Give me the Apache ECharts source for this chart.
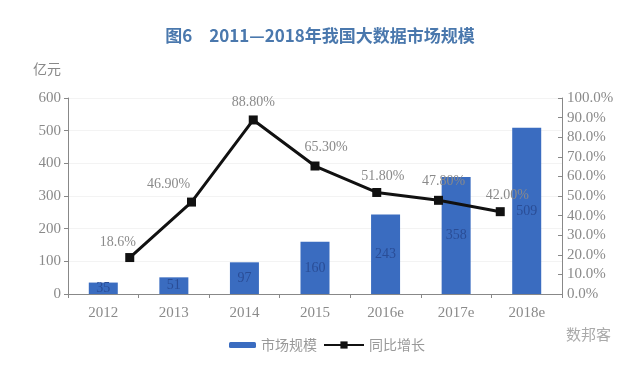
<!DOCTYPE html>
<html><head><meta charset="utf-8">
<script src="https://cdn.jsdelivr.net/npm/echarts@6/dist/echarts.min.js"></script>
<style>html,body{margin:0;padding:0;background:#fff}#c{width:640px;height:365px}</style>
</head><body><div id="c"></div>
<script>
const categories = ['2012','2013','2014','2015','2016e','2017e','2018e'];
const marketSize = [35, 51, 97, 160, 243, 358, 509];
const growth = [18.6, 46.9, 88.8, 65.3, 51.8, 47.8, 42.0];
const growthLabels = ['18.6%','46.90%','88.80%','65.30%','51.80%','47.80%','42.00%'];
const labelOffsets = [[-12,2],[-23,0],[0,0],[11,-1],[6,1],[5,-1],[7,1]];

const chart = echarts.init(document.getElementById('c'));
const serif = 'Liberation Serif';
const cjk = 'Noto Sans CJK SC';
const grey = '#8a8a8a';

const lineCats = [''].concat(categories).concat(['']);
const lineData = [null].concat(growth.map((v,i)=>({
  value: v,
  label: {formatter: growthLabels[i], offset: labelOffsets[i]}
}))).concat([null]);

chart.setOption({
  animation: false,
  title: {
    text: '图6　2011—2018年我国大数据市场规模',
    left: 'center', top: 22,
    textStyle: {fontFamily: cjk, fontSize: 17, fontWeight: 'bold', color: '#4a78ad'}
  },
  graphic: [
    {type:'text', left: 33, top: 62, style:{text:'亿元', font:'14px "Noto Sans CJK SC"', fill:'#888'}},
    {type:'text', left: 566, top: 327, style:{text:'数邦客', font:'15px "Noto Sans CJK SC"', fill:'#aaa'}}
  ],
  legend: [
    {data:['市场规模'], left: 224, top: 333, itemWidth: 27, itemHeight: 6, itemGap: 4,
     textStyle:{fontFamily: cjk, fontSize: 14, color: '#999'}},
    {data:['同比增长'], left: 318, top: 333, itemWidth: 40, itemHeight: 9,
     textStyle:{fontFamily: cjk, fontSize: 14, color: '#999'}}
  ],
  grid: {left: 68, right: 78, top: 98, bottom: 71},
  xAxis: [
    {type:'category', data: categories, boundaryGap: true,
     axisLine:{lineStyle:{color:'#888'}},
     axisTick:{show:true, length:4, lineStyle:{color:'#888'}},
     axisLabel:{fontFamily: serif, fontSize: 15, color: grey, margin: 12}},
    {type:'category', data: lineCats, boundaryGap: false, show: false, position:'bottom'}
  ],
  yAxis: [
    {type:'value', min: 0, max: 600, interval: 100,
     axisLine:{show:true, lineStyle:{color:'#888'}},
     axisTick:{show:true, length:4, lineStyle:{color:'#888'}},
     axisLabel:{fontFamily: serif, fontSize: 15, color: grey, margin: 7},
     splitLine:{show:true, lineStyle:{color:'#f3f3f3'}}},
    {type:'value', min: 0, max: 100, interval: 10,
     axisLine:{show:true, lineStyle:{color:'#888'}},
     axisTick:{show:true, length:4, inside:true, lineStyle:{color:'#888'}},
     axisLabel:{fontFamily: serif, fontSize: 15, color: grey, margin: 5,
       formatter: v => v.toFixed(1) + '%'},
     splitLine:{show:false}}
  ],
  series: [
    {name:'市场规模', type:'bar', data: marketSize, barWidth: 29,
     itemStyle:{color:'#3a6cc0'},
     label:{show:true, position:'inside', fontFamily: serif, fontSize: 14, color:'#2a4d96'}},
    {name:'同比增长', type:'line', xAxisIndex: 1, yAxisIndex: 1, data: lineData,
     symbol:'rect', symbolSize: 9, connectNulls: false,
     lineStyle:{color:'#111', width: 3}, itemStyle:{color:'#111'},
     label:{show:true, position:'top', distance: 6, fontFamily: serif, fontSize: 14, color: grey}}
  ]
});
</script></body></html>
